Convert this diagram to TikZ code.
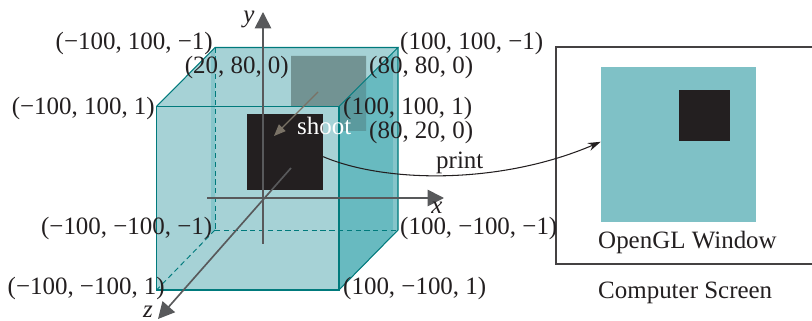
\documentclass[tikz,border=0pt]{standalone}
\usepackage{fontspec}
\setmainfont{Liberation Serif}
\usepackage{xcolor}
\usetikzlibrary{positioning, arrows.meta}
\definecolor{faceteal}{HTML}{A6D2D6}
\definecolor{sideteal}{HTML}{68BAC0}
\definecolor{stripteal}{HTML}{86C5CA}
\definecolor{windowteal}{HTML}{7FC1C6}
\definecolor{edgeteal}{HTML}{007A7C}
\definecolor{greysq}{HTML}{729393}
\definecolor{greyside}{HTML}{5B9A9E}
\definecolor{squareblack}{HTML}{231F20}
\definecolor{axisgrey}{HTML}{58595B}
\definecolor{shootgrey}{HTML}{7A7266}
\tikzset{
	lbl/.style={inner sep=0pt, text=squareblack, yshift=-1.8pt},
	edge/.style={edgeteal, line width=0.9pt},
	backedge/.style={edgeteal, line width=0.8pt, dash pattern=on 4.5pt off 3pt},
	axis/.style={axisgrey, line width=1.4pt, -{Triangle[length=14pt, width=14pt]}},
}
\begin{document}
\begin{tikzpicture}[x=0.03cm, y=-0.03cm, font=\fontsize{21.3}{24}\selectfont]
	\useasboundingbox (0,0) rectangle (812,321);

	% The cube faces
	\fill[faceteal] (156.5,106.5) -- (215,47.5) -- (398,47.5) -- (339,106.5) -- cycle;
	\fill[faceteal] (156.5,106.5) rectangle (339,290);
	\fill[sideteal] (339,106.5) -- (398,47.5) -- (398,230) -- (339,290) -- cycle;
	\fill[stripteal] (393,52.5) -- (398,47.5) -- (398,230) -- (393,235) -- cycle;
	\fill[stripteal] (211,51.5) -- (215,47.5) -- (215,230) -- (211,234) -- cycle;

	% The square on the far side
	\fill[greysq] (291,56) -- (366,56) -- (366,79.5) -- (339,106.5) -- (291,106.5) -- cycle;
	\fill[greyside] (339,106.5) -- (366,79.5) -- (366,131) -- (339,131) -- cycle;

	% Cube edges
	\draw[backedge] (215,47.5) -- (215,230);
	\draw[backedge] (215,230) -- (398,230);
	\draw[backedge] (215,230) -- (156.5,290);
	\draw[edge] (156.5,106.5) rectangle (339,290);
	\draw[edge] (156.5,106.5) -- (215,47.5) -- (398,47.5) -- (339,106.5);
	\draw[edge] (398,47.5) -- (398,230) -- (339,290);

	% The projected square
	\node (frontsq) at (285,152) [fill=squareblack, minimum size=2.28cm, inner sep=0pt] {};

	% Axes
	\coordinate (ybot) at (263,244);
	\coordinate (ytop) at (263,12);
	\coordinate (xleft) at (207,198);
	\coordinate (xright) at (444,198);
	\coordinate (zback) at (291,168);
	\coordinate (zfront) at (158,319);
	\draw[axis] (ybot) -- (ytop);
	\draw[axis] (xleft) -- (xright);
	\draw[axis] (zback) -- (zfront);
	\coordinate (shootfrom) at (318,92);
	\coordinate (shootto) at (274,136);
	\draw[shootgrey, line width=1pt, -{Triangle[length=10pt, width=8pt]}] (shootfrom) -- (shootto);

	% Computer screen
	\draw[squareblack!85!white, line width=1pt] (812,47) -- (556,47) -- (556,264) -- (812,264);
	\node (window) at (678.5,144.5) [fill=windowteal, minimum size=4.65cm, inner sep=0pt] {};
	\node (windowsq) at (704.5,115.5) [fill=squareblack, minimum size=1.52cm, inner sep=0pt] {};
	\draw[-{Stealth[length=11pt, width=7pt]}, squareblack, line width=0.9pt] (frontsq.-7) .. controls (385,183) and (500,185) .. (window.178);

	% Labels
	\node[lbl, anchor=east] (lbltl) at (213,41) {(−100, 100, −1)};
	\node[lbl, anchor=west] (lbltr) at (400,41) {(100, 100, −1)};
	\node[lbl, anchor=east] (lblga) at (289,65) {(20, 80, 0)};
	\node[lbl, anchor=west] (lblgb) at (369,65) {(80, 80, 0)};
	\node[lbl, anchor=east] (lblfl) at (155,106) {(−100, 100, 1)};
	\node[lbl, anchor=west] (lblfr) at (343,106) {(100, 100, 1)};
	\node[lbl, anchor=west] (lblgc) at (369,130) {(80, 20, 0)};
	\node[lbl, anchor=west, text=white] (lblshoot) at (297,124) {shoot};
	\node[lbl, anchor=west] (lblprint) at (436,161) {print};
	\node[lbl, anchor=east] (lblbl) at (212.5,226) {(−100, −100, −1)};
	\node[lbl, anchor=west] (lblbr) at (400,226) {(100, −100, −1)};
	\node[lbl, anchor=east] (lblfbl) at (165,286) {(−100, −100, 1)};
	\node[lbl, anchor=west] (lblfbr) at (343,286) {(100, −100, 1)};
	\node[lbl] (lblx) at (437,206) {\textit{x}};
	\node[lbl] (lbly) at (249,17) {\textit{y}};
	\node[lbl] (lblz) at (148,310) {\textit{z}};
	\node[lbl, anchor=west] (lblwin) at (598,240) {OpenGL Window};
	\node[lbl, anchor=west] (lblscreen) at (598,291) {Computer Screen};
\end{tikzpicture}
\end{document}
